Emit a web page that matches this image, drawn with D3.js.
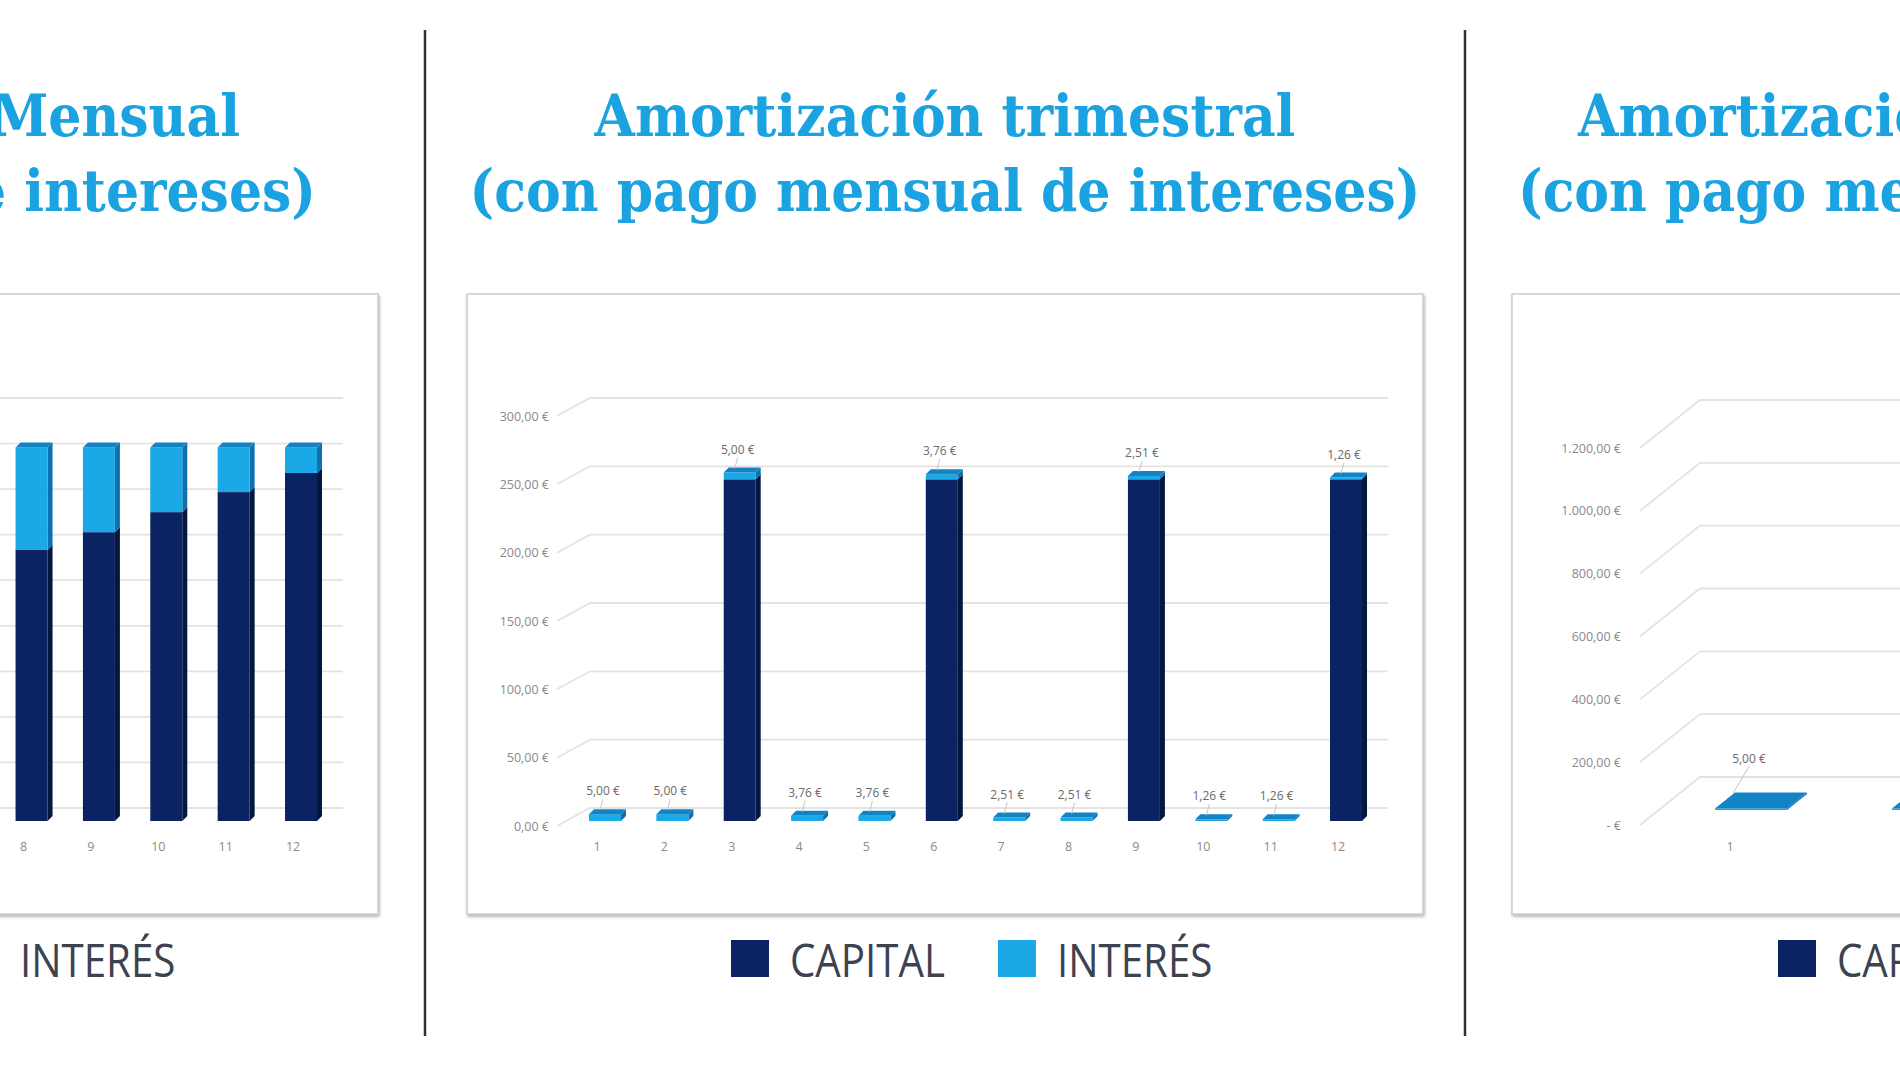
<!DOCTYPE html>
<html lang="es">
<head>
<meta charset="utf-8">
<title>Amortización</title>
<script src="https://cdnjs.cloudflare.com/ajax/libs/d3/7.8.5/d3.min.js"></script>
<style>
body { margin: 0; background: #fff; overflow: hidden; }
</style>
</head>
<body>
<svg id="canvas"></svg>
<script>
// datos
const series = ['CAPITAL', 'INTERÉS']
const meses = [1, 2, 3, 4, 5, 6, 7, 8, 9, 10, 11, 12]

// amortizacion mensual (solo se ven los meses 8 a 12)
const mesesMensual = [8, 9, 10, 11, 12]
const capitalMensual = [59.5, 63.4, 67.8, 72.2, 76.4]
const interesMensual = [22.5, 18.6, 14.2, 9.8, 5.6]
const ejeMensual = [0, 10, 20, 30, 40, 50, 60, 70, 80, 90]

// amortizacion trimestral
const capitalTrimestral = [0, 0, 250, 0, 0, 250, 0, 0, 250, 0, 0, 250]
const interesTrimestral = [5.00, 5.00, 5.00, 3.76, 3.76, 3.76, 2.51, 2.51, 2.51, 1.26, 1.26, 1.26]
const ejeTrimestral = [0, 50, 100, 150, 200, 250, 300]

// tercera grafica (solo se ve el principio)
const periodosVencimiento = [1, 2, 3, 4]
const barrasVencimiento = [1, 2]
const capitalVencimiento = [0, 0]
const interesVencimiento = [5.00, 5.00]
const ejeVencimiento = [0, 200, 400, 600, 800, 1000, 1200]

const colores = {
    capital: {front: '#0b2263', side: '#06173f', top: '#163c8c'},
    interes: {front: '#1aa8e6', side: '#0f70b0', top: '#1383c6'}
}
const azulTitulo = '#1ba2e0'

let width = 1900,
height = 1069

let canvas = d3.select('#canvas')
.attr('width', width)
.attr('height', height)

const euro = d3.formatLocale({decimal: ',', thousands: '.', grouping: [3], currency: ['', ' €']}).format('$,.2f')

canvas.append('defs').append('filter')
.attr('id', 'sombra').attr('x', '-5%').attr('y', '-5%').attr('width', '110%').attr('height', '110%')
.append('feDropShadow')
.attr('dx', 1).attr('dy', 2).attr('stdDeviation', 1.5)
.attr('flood-color', '#777').attr('flood-opacity', 0.55)

// separadores
canvas.selectAll('line.sep')
.data([425, 1465])
.enter().append('line')
.attr('x1', d => d).attr('x2', d => d)
.attr('y1', 30).attr('y2', 1036)
.attr('stroke', '#333').attr('stroke-width', 2.5)

let drawChart = (cfg) => {
    let g = canvas.append('g')

    let y = d3.scaleLinear().domain([0, cfg.max]).range([cfg.y0, cfg.y1])
    let x = d3.scaleBand().domain(cfg.categorias).range(cfg.xRange)
    let yb = v => y(v) + cfg.barDy

    g.append('rect')
    .attr('x', cfg.boxX).attr('y', 294)
    .attr('width', 956).attr('height', 620)
    .attr('fill', '#fff')
    .attr('stroke', '#cdcdcd').attr('stroke-width', 1.5)
    .attr('filter', 'url(#sombra)')

    // rejilla con perspectiva
    g.selectAll('path.grid')
    .data(cfg.eje)
    .enter().append('path')
    .attr('d', t => `M${cfg.gridStart},${y(t)}L${cfg.gridStart + cfg.ddx},${y(t) - cfg.ddy}H${cfg.gridEnd}`)
    .attr('fill', 'none')
    .attr('stroke', '#e3e3e3')
    .attr('stroke-width', 1.8)

    // las etiquetas del eje y solo si caen dentro de la imagen
    if (cfg.labelRight > 0) {
        g.append('g')
        .attr('transform', `translate(${cfg.labelRight},0)`)
        .call(d3.axisLeft(y).tickValues(cfg.eje).tickSize(0).tickPadding(0).tickFormat(cfg.formato))
        .call(a => a.select('.domain').remove())
        .attr('font-family', '"Open Sans", sans-serif')
        .attr('font-size', 12.5)
        .selectAll('text').attr('fill', '#8a8a8a')
    }

    let visibles = cfg.categorias.filter(c => x(c) + x.bandwidth() / 2 > 0 && x(c) + x.bandwidth() / 2 < width)
    g.append('g')
    .attr('transform', `translate(0,${cfg.xLabelY})`)
    .call(d3.axisBottom(x).tickValues(visibles).tickSize(0).tickPadding(0))
    .call(a => a.select('.domain').remove())
    .attr('font-family', '"Open Sans", sans-serif')
    .attr('font-size', 12.5)
    .selectAll('text').attr('fill', '#8a8a8a')

    let rows = cfg.barras.map((c, i) => ({cat: c, capital: cfg.capital[i], interes: cfg.interes[i]}))
    let stacked = d3.stack().keys(['capital', 'interes'])(rows)

    let barras = g.selectAll('g.barra')
    .data(rows)
    .enter().append('g')
    .attr('class', 'barra')

    barras.each(function (r, i) {
        let b = d3.select(this)
        let cx = x(r.cat) + x.bandwidth() / 2 + cfg.barShift
        let x0 = cx - cfg.bw / 2, x1 = cx + cfg.bw / 2
        let segs = stacked.map(layer => ({key: layer.key, v0: layer[i][0], v1: layer[i][1]}))
        .filter(s => s.v1 > s.v0)

        segs.forEach((s, j) => {
            let c = colores[s.key]
            let ya = yb(s.v0), yt = yb(s.v1)
            b.append('path')
            .attr('d', `M${x1},${ya}L${x1 + cfg.bdx},${ya - cfg.bdy}L${x1 + cfg.bdx},${yt - cfg.bdy}L${x1},${yt}Z`)
            .attr('fill', c.side)
            b.append('rect')
            .attr('x', x0).attr('y', yt)
            .attr('width', cfg.bw).attr('height', ya - yt)
            .attr('fill', c.front)
            if (j === segs.length - 1) {
                b.append('path')
                .attr('d', `M${x0},${yt}L${x0 + cfg.bdx},${yt - cfg.bdy}L${x1 + cfg.bdx},${yt - cfg.bdy}L${x1},${yt}Z`)
                .attr('fill', c.top)
            }
        })

        if (!cfg.etiquetas || cx > width - 20) return

        // etiqueta del interes
        let top = yb(r.capital + r.interes) - cfg.bdy
        let ly = top - cfg.labelGap
        b.append('line')
        .attr('x1', cx - 2).attr('y1', ly + 8)
        .attr('x2', cx - 2 - cfg.leaderDx).attr('y2', top + 1)
        .attr('stroke', '#c4c4c4').attr('stroke-width', 1)
        b.append('text')
        .attr('x', cx - 2).attr('y', ly)
        .attr('dy', '0.35em')
        .attr('text-anchor', 'middle')
        .attr('font-family', '"Open Sans", sans-serif')
        .attr('font-size', 12)
        .attr('fill', '#6a6a6a')
        .text(euro(r.interes))
    })
}

// geometria de las dos graficas iguales (mensual y trimestral)
let base = {
    labelRight: 549, y0: 826, y1: 416,
    gridStart: 557, ddx: 33, ddy: 18, gridEnd: 1388,
    xRange: [563.3, 1371.7], barShift: 8, bw: 32, bdx: 5, bdy: 5, barDy: -5,
    labelGap: 18, leaderDx: 3, xLabelY: 842, boxX: 467, formato: euro, etiquetas: true
}
let desplazar = (cfg, dx) => Object.assign({}, cfg, {
    labelRight: cfg.labelRight + dx, gridStart: cfg.gridStart + dx, gridEnd: cfg.gridEnd + dx,
    xRange: cfg.xRange.map(v => v + dx), boxX: cfg.boxX + dx
})

drawChart(Object.assign(desplazar(base, -1045), {
    categorias: meses, barras: mesesMensual, capital: capitalMensual, interes: interesMensual,
    eje: ejeMensual, max: 90, etiquetas: false
}))

drawChart(Object.assign({}, base, {
    categorias: meses, barras: meses, capital: capitalTrimestral, interes: interesTrimestral,
    eje: ejeTrimestral, max: 300
}))

drawChart({
    labelRight: 1621, y0: 825, y1: 448,
    gridStart: 1640, ddx: 60, ddy: 48, gridEnd: 2440,
    xRange: [1641.5, 2349.5], barShift: 21, bw: 72, bdx: 20, bdy: 16, barDy: -15,
    labelGap: 34, leaderDx: 16, xLabelY: 842, boxX: 1512, etiquetas: true,
    formato: v => v === 0 ? '- €' : euro(v),
    categorias: periodosVencimiento, barras: barrasVencimiento,
    capital: capitalVencimiento, interes: interesVencimiento,
    eje: ejeVencimiento, max: 1200
})

// titulos
let titulos = [
    {lineas: ['Amortización Mensual', '(con pago mensual de intereses)'], anchor: 'end', xs: [240, 316]},
    {lineas: ['Amortización trimestral', '(con pago mensual de intereses)'], anchor: 'middle', xs: [945, 945]},
    {lineas: ['Amortización al vencimiento', '(con pago mensual de intereses)'], anchor: 'start', xs: [1578, 1518]}
]
let medida = canvas.append('text')
.attr('font-family', '"DejaVu Serif", serif').attr('font-weight', 'bold').attr('font-size', 58)
.text('(con pago mensual de intereses)')
let kT = 951 / medida.node().getComputedTextLength()
medida.remove()

titulos.forEach(t => {
    t.lineas.forEach((linea, i) => {
        canvas.append('text')
        .attr('transform', `translate(${t.xs[i]},${[136, 211][i]}) scale(${kT},1)`)
        .attr('text-anchor', t.anchor)
        .attr('font-family', '"DejaVu Serif", serif')
        .attr('font-weight', 'bold')
        .attr('font-size', 58)
        .attr('fill', azulTitulo)
        .text(linea)
    })
})

// leyendas
let medidaL = canvas.append('text')
.attr('font-family', '"Open Sans", sans-serif').attr('font-size', 46)
.text('CAPITAL')
let kL = 155 / medidaL.node().getComputedTextLength()
medidaL.remove()

let colorLeyenda = {CAPITAL: colores.capital.front, 'INTERÉS': colores.interes.front}
let leyendas = [-306, 731, 1778]
leyendas.forEach(x0 => {
    let cur = x0
    series.forEach(s => {
        canvas.append('rect')
        .attr('x', cur).attr('y', 940)
        .attr('width', 38).attr('height', 37)
        .attr('fill', colorLeyenda[s])
        let txt = canvas.append('text')
        .attr('transform', `translate(${cur + 59},977) scale(${kL},1)`)
        .attr('font-family', '"Open Sans", sans-serif')
        .attr('font-size', 46)
        .attr('fill', '#3d4250')
        .text(s)
        cur = cur + 59 + txt.node().getComputedTextLength() * kL + 53
    })
})
</script>
</body>
</html>
